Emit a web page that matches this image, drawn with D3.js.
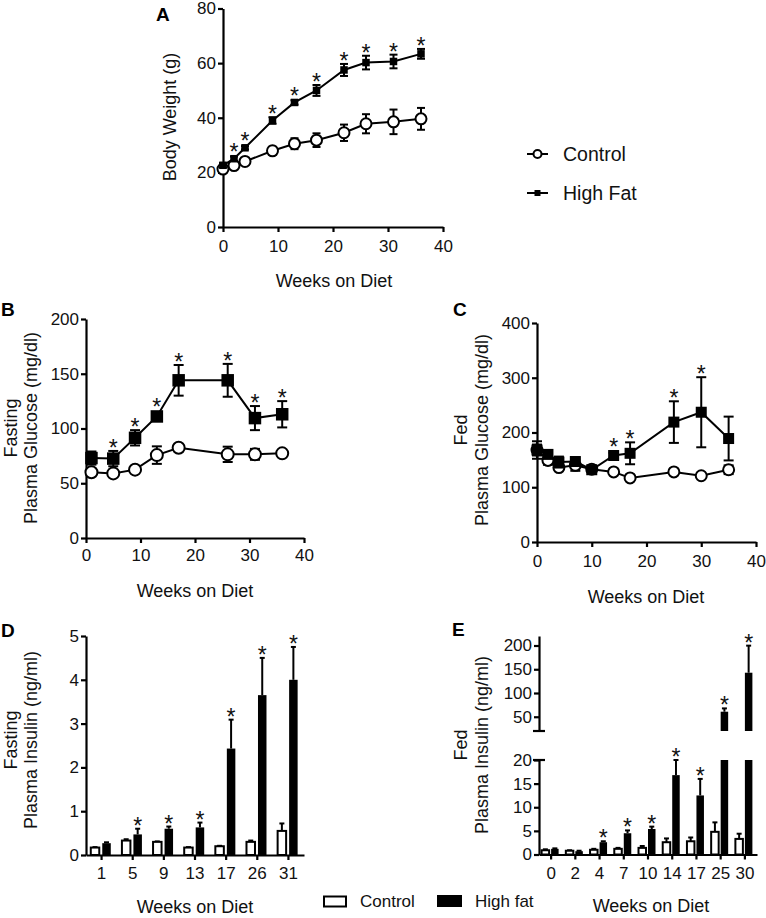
<!DOCTYPE html>
<html><head><meta charset="utf-8">
<script src="https://cdn.jsdelivr.net/npm/d3@7/dist/d3.min.js"></script>
<style>body{margin:0;background:#fff;} svg text{font-family:"Liberation Sans",Arial,Helvetica,sans-serif;}</style>
</head><body><svg id="c" width="766" height="918"></svg>
<script>
// ---------- Panel A: body weight ----------
const weeksA = [0, 2, 4, 9, 13, 17, 22, 26, 31, 36];
const bwControl = [21.2, 22.5, 24, 27.9, 30.5, 31.8, 34.5, 37.8, 38.5, 39.6];
const bwControlErr = [0.8, 0.8, 0.8, 1.5, 2, 2.5, 3, 3.5, 4.5, 4];
const bwHighFat = [22.6, 25, 29, 39, 45.6, 50, 57.5, 60.2, 60.6, 63.4];
const bwHighFatErr = [0.8, 0.8, 0.6, 1.2, 0.8, 2, 2.2, 2.5, 2.5, 1.8];
const bwSig = [0, 1, 1, 1, 1, 1, 1, 1, 1, 1];
const ticksAx = [0, 10, 20, 30, 40];
const ticksAy = [0, 20, 40, 60, 80];

// ---------- Panel B: fasting glucose ----------
const weeksB = [1, 5, 9, 13, 17, 26, 31, 36];
const fgControl = [60, 59, 62.4, 75.7, 82.4, 76.4, 76.4, 77.3];
const fgControlErr = [2, 1.5, 1.5, 8, 2, 7, 5, 2];
const fgHighFat = [73, 72.5, 91.5, 111, 144, 144, 109.5, 113];
const fgHighFatErr = [6, 7, 7, 3, 14, 15, 11, 12];
const fgSig = [0, 1, 1, 1, 1, 1, 1, 1];
const ticksBx = [0, 10, 20, 30, 40];
const ticksBy = [0, 50, 100, 150, 200];

// ---------- Panel C: fed glucose ----------
const weeksC = [0, 2, 4, 7, 10, 14, 17, 25, 30, 35];
const fedGControl = [168, 149, 136, 140, 133, 128, 117, 128, 121, 132];
const fedGControlErr = [10, 8, 5, 10, 3, 3, 3, 3, 3, 8];
const fedGHighFat = [168, 160, 146, 147, 132, 158, 162, 219, 237, 189];
const fedGHighFatErr = [16, 6, 10, 7, 3, 5, 20, 38, 64, 40];
const fedGSig = [0, 0, 0, 0, 0, 1, 1, 1, 1, 0];
const ticksCx = [0, 10, 20, 30, 40];
const ticksCy = [0, 100, 200, 300, 400];

// ---------- Panel D: fasting insulin ----------
const weeksD = ["1", "5", "9", "13", "17", "26", "31"];
const fiControl = [0.17, 0.33, 0.30, 0.17, 0.20, 0.30, 0.55];
const fiControlErr = [0.01, 0.03, 0.01, 0.01, 0.01, 0.03, 0.17];
const fiHighFat = [0.27, 0.47, 0.60, 0.63, 2.43, 3.65, 4.0];
const fiHighFatErr = [0.02, 0.13, 0.05, 0.11, 0.66, 0.85, 0.75];
const fiSig = [0, 1, 1, 1, 1, 1, 1];
const ticksDy = [0, 1, 2, 3, 4, 5];

// ---------- Panel E: fed insulin (broken axis) ----------
const weeksE = ["0", "2", "4", "7", "10", "14", "17", "25", "30"];
const feiControl = [0.9, 0.8, 1.0, 1.2, 1.4, 2.6, 2.8, 4.8, 3.3];
const feiControlErr = [0.2, 0.1, 0.2, 0.2, 0.4, 0.8, 0.8, 2.0, 1.1];
const feiHighFat = [1.2, 0.7, 2.6, 4.5, 5.4, 16.8, 12.5, 60.6, 142.7];
const feiHighFatErr = [0.1, 0.1, 0.2, 0.6, 0.5, 3.2, 3.5, 7, 57];
const feiSig = [0, 0, 1, 1, 1, 1, 1, 1, 1];
const ticksElow = [0, 5, 10, 15, 20];
const ticksEhigh = [50, 100, 150, 200];

const svg = d3.select("#c");
const FS = 17;

function styleAxis(g) {
  g.selectAll("path.domain").attr("stroke", "#000").attr("stroke-width", 2.2);
  g.selectAll(".tick line").attr("stroke", "#000").attr("stroke-width", 2.2);
  g.selectAll(".tick text").attr("font-size", FS).attr("fill", "#111");
}

function star(g, x, yTop) {
  g.append("text").attr("x", x).attr("y", yTop + 7).attr("text-anchor", "middle")
    .attr("font-size", 23).attr("fill", "#111").text("*");
}

function letter(txt, x, y) {
  svg.append("text").attr("x", x).attr("y", y).attr("font-size", 19).attr("font-weight", "bold")
    .attr("fill", "#000").text(txt);
}

function yTitle(lines, xs, cy) {
  lines.forEach((t, i) => {
    svg.append("text").attr("transform", `translate(${xs[i]},${cy}) rotate(-90)`)
      .attr("text-anchor", "middle").attr("font-size", FS + 1).attr("fill", "#111").text(t);
  });
}
function xTitle(t, cx, y) {
  svg.append("text").attr("x", cx).attr("y", y).attr("text-anchor", "middle")
    .attr("font-size", FS + 1).attr("fill", "#111").text(t);
}

function linePanel(o) {
  const x = d3.scaleLinear().domain(o.xDomain).range(o.xRange);
  const y = d3.scaleLinear().domain(o.yDomain).range(o.yRange);
  const g = svg.append("g");
  g.append("g").attr("transform", `translate(0,${o.yRange[0]})`)
    .call(d3.axisBottom(x).tickValues(o.xTicks).tickSize(5).tickSizeOuter(0).tickPadding(o.xPad))
    .call(styleAxis);
  g.append("g").attr("transform", `translate(${o.xRange[0]},0)`)
    .call(d3.axisLeft(y).tickValues(o.yTicks).tickSize(5).tickSizeOuter(0).tickPadding(2))
    .call(styleAxis);
  o.series.forEach(s => {
    const pts = s.xs.map((xv, i) => ({
      x: x(xv), y: y(s.ys[i]), lo: y(s.ys[i] - s.errs[i]), hi: y(s.ys[i] + s.errs[i])
    }));
    g.append("path").attr("d", d3.line().x(d => d.x).y(d => d.y)(pts))
      .attr("fill", "none").attr("stroke", "#000").attr("stroke-width", 2);
    pts.forEach(p => {
      g.append("line").attr("x1", p.x).attr("x2", p.x).attr("y1", p.lo).attr("y2", p.hi)
        .attr("stroke", "#000").attr("stroke-width", 2);
      [p.lo, p.hi].forEach(yy => g.append("line").attr("x1", p.x - o.cap).attr("x2", p.x + o.cap)
        .attr("y1", yy).attr("y2", yy).attr("stroke", "#000").attr("stroke-width", 2));
    });
    pts.forEach((p, i) => {
      if (s.type === "circle") {
        g.append("circle").attr("cx", p.x).attr("cy", p.y).attr("r", o.r)
          .attr("fill", "#fff").attr("stroke", "#000").attr("stroke-width", 2);
      } else {
        g.append("rect").attr("x", p.x - o.sq / 2).attr("y", p.y - o.sq / 2)
          .attr("width", o.sq).attr("height", o.sq).attr("fill", "#000");
      }
      if (s.sig && s.sig[i]) {
        const top = Math.min(p.hi, p.y - o.sq / 2);
        star(g, p.x, top - 2);
      }
    });
  });
}

// ---- Panel A
linePanel({
  xDomain: [0, 40], xRange: [223, 443], yDomain: [0, 80], yRange: [227, 8.5],
  xTicks: ticksAx, yTicks: ticksAy, xPad: 8, cap: 4, r: 5.5, sq: 7.5,
  series: [
    { xs: weeksA, ys: bwControl, errs: bwControlErr, type: "circle" },
    { xs: weeksA, ys: bwHighFat, errs: bwHighFatErr, type: "square", sig: bwSig }
  ]
});
letter("A", 156, 21);
yTitle(["Body Weight (g)"], [176], 117);
xTitle("Weeks on Diet", 334, 287);

// legend A
[["Control", "circle", 154], ["High Fat", "square", 193]].forEach(([lab, type, yy]) => {
  svg.append("line").attr("x1", 527).attr("x2", 548).attr("y1", yy).attr("y2", yy)
    .attr("stroke", "#000").attr("stroke-width", 2);
  if (type === "circle") svg.append("circle").attr("cx", 537.5).attr("cy", yy).attr("r", 4)
    .attr("fill", "#fff").attr("stroke", "#000").attr("stroke-width", 2);
  else svg.append("rect").attr("x", 534.5).attr("y", yy - 3).attr("width", 6).attr("height", 6).attr("fill", "#000");
  svg.append("text").attr("x", 563).attr("y", yy + 7).attr("font-size", 19.5).attr("fill", "#111").text(lab);
});

// ---- Panel B
linePanel({
  xDomain: [0, 40], xRange: [86, 304], yDomain: [0, 200], yRange: [538, 319],
  xTicks: ticksBx, yTicks: ticksBy, xPad: 6, cap: 5, r: 6, sq: 12.5,
  series: [
    { xs: weeksB, ys: fgControl, errs: fgControlErr, type: "circle" },
    { xs: weeksB, ys: fgHighFat, errs: fgHighFatErr, type: "square", sig: fgSig }
  ]
});
letter("B", 1, 316);
yTitle(["Fasting", "Plasma Glucose (mg/dl)"], [17, 37], 428);
xTitle("Weeks on Diet", 195, 597);

// ---- Panel C
linePanel({
  xDomain: [0, 40], xRange: [537, 756], yDomain: [0, 400], yRange: [542, 323],
  xTicks: ticksCx, yTicks: ticksCy, xPad: 8, cap: 5, r: 5.5, sq: 11,
  series: [
    { xs: weeksC, ys: fedGControl, errs: fedGControlErr, type: "circle" },
    { xs: weeksC, ys: fedGHighFat, errs: fedGHighFatErr, type: "square", sig: fedGSig }
  ]
});
letter("C", 453, 316);
yTitle(["Fed", "Plasma Glucose (mg/dl)"], [467, 488], 430);
xTitle("Weeks on Diet", 646, 603);

// ---- Panel D
(function () {
  const x = d3.scaleBand().domain(weeksD).range([86, 304]).paddingInner(0).paddingOuter(0);
  const y = d3.scaleLinear().domain([0, 5]).range([855, 636]);
  const g = svg.append("g");
  const bw = 8.5, gap = 3;
  weeksD.forEach((w, i) => {
    const cx = x(w) + x.bandwidth() / 2 - 0.8;
    const xc = cx - gap / 2 - bw, xh = cx + gap / 2;
    // control
    g.append("line").attr("x1", xc + bw / 2).attr("x2", xc + bw / 2)
      .attr("y1", y(fiControl[i])).attr("y2", y(fiControl[i] + fiControlErr[i])).attr("stroke", "#000").attr("stroke-width", 2);
    g.append("line").attr("x1", xc + bw / 2 - 2.5).attr("x2", xc + bw / 2 + 2.5)
      .attr("y1", y(fiControl[i] + fiControlErr[i])).attr("y2", y(fiControl[i] + fiControlErr[i])).attr("stroke", "#000").attr("stroke-width", 2);
    g.append("rect").attr("x", xc).attr("y", y(fiControl[i])).attr("width", bw)
      .attr("height", y(0) - y(fiControl[i])).attr("fill", "#fff").attr("stroke", "#000").attr("stroke-width", 2);
    // high fat
    const top = y(fiHighFat[i] + fiHighFatErr[i]);
    g.append("line").attr("x1", xh + bw / 2).attr("x2", xh + bw / 2)
      .attr("y1", y(fiHighFat[i])).attr("y2", top).attr("stroke", "#000").attr("stroke-width", 2);
    g.append("line").attr("x1", xh + bw / 2 - 2.5).attr("x2", xh + bw / 2 + 2.5)
      .attr("y1", top).attr("y2", top).attr("stroke", "#000").attr("stroke-width", 2);
    g.append("rect").attr("x", xh).attr("y", y(fiHighFat[i])).attr("width", bw)
      .attr("height", y(0) - y(fiHighFat[i])).attr("fill", "#000");
    if (fiSig[i]) star(g, xh + bw / 2, top - 2);
  });
  g.append("g").attr("transform", `translate(0,855)`)
    .call(d3.axisBottom(x).tickSize(5).tickSizeOuter(0).tickPadding(7)).call(styleAxis);
  g.append("g").attr("transform", `translate(86,0)`)
    .call(d3.axisLeft(y).tickValues(ticksDy).tickFormat(d3.format("d")).tickSize(5).tickSizeOuter(0).tickPadding(2)).call(styleAxis);
})();
letter("D", 1, 637);
yTitle(["Fasting", "Plasma Insulin (ng/ml)"], [17, 37], 740);
xTitle("Weeks on Diet", 195, 913);

// ---- Panel E (broken y axis)
(function () {
  const x = d3.scaleBand().domain(weeksE).range([539, 757]).paddingInner(0).paddingOuter(0);
  const yLo = d3.scaleLinear().domain([0, 20]).range([854.5, 760]);
  const yHi = d3.scaleLinear().domain([20, 220]).range([731, 636]);
  const g = svg.append("g");
  const bw = 7.5, gap = 2;
  function seg(v1, xx, fill) {
    if (v1 <= 20) {
      g.append("rect").attr("x", xx).attr("y", yLo(v1)).attr("width", bw).attr("height", yLo(0) - yLo(v1))
        .attr("fill", fill).attr("stroke", "#000").attr("stroke-width", fill === "#fff" ? 2 : 0);
    } else {
      g.append("rect").attr("x", xx).attr("y", yLo(20)).attr("width", bw).attr("height", yLo(0) - yLo(20)).attr("fill", fill);
      g.append("rect").attr("x", xx).attr("y", yHi(v1)).attr("width", bw).attr("height", yHi(20) - yHi(v1)).attr("fill", fill);
    }
  }
  const yAny = v => v <= 20 ? yLo(v) : yHi(v);
  weeksE.forEach((w, i) => {
    const cx = x(w) + x.bandwidth() / 2 - 1;
    const xc = cx - gap / 2 - bw, xh = cx + gap / 2;
    [[feiControl[i], feiControlErr[i], xc, "#fff", 0], [feiHighFat[i], feiHighFatErr[i], xh, "#000", feiSig[i]]].forEach(([v, e, xx, fill, sg]) => {
      const top = yAny(v + e);
      g.append("line").attr("x1", xx + bw / 2).attr("x2", xx + bw / 2).attr("y1", yAny(v)).attr("y2", top)
        .attr("stroke", "#000").attr("stroke-width", 2);
      g.append("line").attr("x1", xx + bw / 2 - 2.5).attr("x2", xx + bw / 2 + 2.5).attr("y1", top).attr("y2", top)
        .attr("stroke", "#000").attr("stroke-width", 2);
      seg(v, xx, fill);
      if (sg) star(g, xx + bw / 2, top - 2);
    });
  });
  g.append("g").attr("transform", `translate(0,854.5)`)
    .call(d3.axisBottom(x).tickSize(5).tickSizeOuter(0).tickPadding(7)).call(styleAxis);
  g.append("g").attr("transform", `translate(539,0)`)
    .call(d3.axisLeft(yLo).tickValues(ticksElow).tickSize(5).tickSizeOuter(0).tickPadding(2)).call(styleAxis);
  g.append("g").attr("transform", `translate(539,0)`)
    .call(d3.axisLeft(yHi).tickValues(ticksEhigh).tickSize(5).tickSizeOuter(0).tickPadding(2)).call(styleAxis);
  // break marks
  [yHi(20), yLo(20)].forEach(yy => g.append("line").attr("x1", 533).attr("x2", 545).attr("y1", yy).attr("y2", yy)
    .attr("stroke", "#000").attr("stroke-width", 2.2));
})();
letter("E", 452, 636);
yTitle(["Fed", "Plasma Insulin (ng/ml)"], [467, 488], 745);
xTitle("Weeks on Diet", 651, 912);

// bottom legend
svg.append("rect").attr("x", 324).attr("y", 896.5).attr("width", 22).attr("height", 10)
  .attr("fill", "#fff").attr("stroke", "#000").attr("stroke-width", 2);
svg.append("text").attr("x", 360).attr("y", 907).attr("font-size", FS).attr("fill", "#111").text("Control");
svg.append("rect").attr("x", 437).attr("y", 895).attr("width", 25).attr("height", 12).attr("fill", "#000");
svg.append("text").attr("x", 475).attr("y", 907).attr("font-size", FS).attr("fill", "#111").text("High fat");
</script></body></html>
